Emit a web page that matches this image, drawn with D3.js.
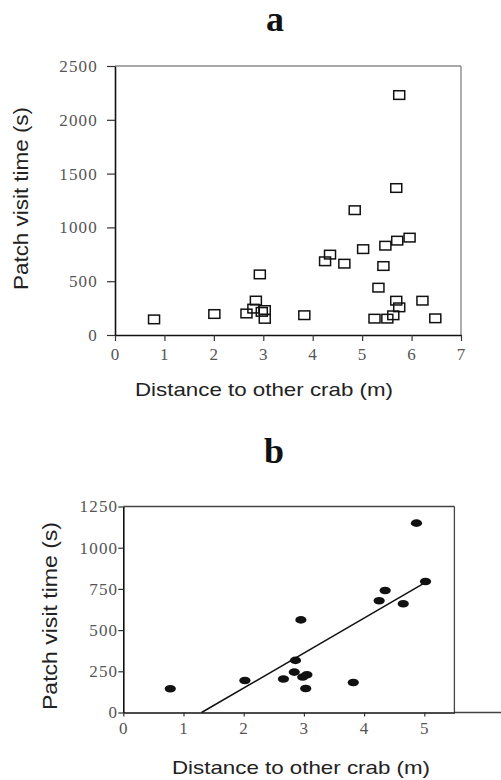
<!DOCTYPE html>
<html>
<head>
<meta charset="utf-8">
<script src="https://cdn.jsdelivr.net/npm/d3@7"></script>
<style>
  body { margin: 0; background: #fff; }
  .tick text { font-family: "Liberation Serif", serif; font-size: 17px; fill: #555; letter-spacing: 1.2px; }
  .lab { font-family: "Liberation Sans", Arial, sans-serif; fill: #222; }
  .ttl { font-family: "Liberation Serif", serif; font-weight: bold; font-size: 36px; fill: #111; }
</style>
</head>
<body>
<script>

// panel a: distance (m) vs patch visit time (s), all crabs
var distA = [0.79, 2.01, 2.66, 2.80, 2.85, 2.93, 2.97, 3.03, 3.03, 3.83, 4.25, 4.35, 4.64, 4.85, 5.02,
             5.75, 5.69, 5.96, 5.71, 5.47, 5.43, 5.33, 5.69, 6.22, 5.75, 5.63, 5.25, 5.51, 6.48];
var timeA = [145, 195, 200, 245, 320, 563, 215, 232, 150, 184, 685, 747, 663, 1160, 798,
             2230, 1366, 905, 877, 830, 641, 440, 319, 319, 257, 183, 152, 152, 155];

// panel b: subset up to 5 m
var distB = [0.78, 2.02, 2.66, 2.84, 2.86, 2.95, 2.98, 3.05, 3.03, 3.82, 4.25, 4.35, 4.65, 4.87, 5.02];
var timeB = [144, 194, 203, 245, 316, 562, 215, 229, 146, 182, 678, 740, 660, 1149, 795];

// fitted line in panel b
var fitX = [1.30, 5.02];
var fitY = [0, 790];

var ticksAx = [0, 1, 2, 3, 4, 5, 6, 7];
var ticksAy = [0, 500, 1000, 1500, 2000, 2500];
var ticksBx = [0, 1, 2, 3, 4, 5];
var ticksBy = [0, 250, 500, 750, 1000, 1250];

var width = 501, height = 780;
var fmt = d3.format("d");

var svg = d3.select("body").append("svg")
    .attr("width", width)
    .attr("height", height);

function styleAxis(g) {
    g.select(".domain").attr("stroke", "#111").attr("stroke-width", 1.6);
    g.selectAll(".tick line").attr("stroke", "#333").attr("stroke-width", 1.2);
    g.selectAll(".tick text").attr("font-family", null).attr("font-size", null);
}

// ---------- panel a ----------
var xa = d3.scaleLinear().domain([0, 7]).range([115, 461]);
var ya = d3.scaleLinear().domain([0, 2500]).range([335, 66]);

svg.append("text").attr("class", "ttl")
    .attr("x", 275).attr("y", 31)
    .attr("text-anchor", "middle").text("a");

// frame top/right
svg.append("line")
    .attr("x1", xa(0)).attr("x2", xa(7)).attr("y1", ya(2500)).attr("y2", ya(2500))
    .attr("stroke", "#555").attr("stroke-width", 1.2);
svg.append("line")
    .attr("x1", xa(7)).attr("x2", xa(7)).attr("y1", ya(2500)).attr("y2", ya(0))
    .attr("stroke", "#777").attr("stroke-width", 1.2);

svg.append("g")
    .attr("transform", "translate(0," + ya(0) + ")")
    .call(d3.axisBottom(xa).tickValues(ticksAx).tickFormat(fmt).tickSize(6).tickSizeOuter(0).tickPadding(6.7))
    .call(styleAxis);
svg.append("g")
    .attr("transform", "translate(" + xa(0) + ",0)")
    .call(d3.axisLeft(ya).tickValues(ticksAy).tickFormat(fmt).tickSize(8).tickSizeOuter(0).tickPadding(9))
    .call(styleAxis);

svg.append("g").selectAll("rect")
    .data(distA.map(function (d, i) { return [d, timeA[i]]; }))
    .enter().append("rect")
    .attr("x", function (d) { return xa(d[0]) - 5.5; })
    .attr("y", function (d) { return ya(d[1]) - 4.3; })
    .attr("width", 11)
    .attr("height", 8.6)
    .attr("fill", "none")
    .attr("stroke", "#111")
    .attr("stroke-width", 1.5);

svg.append("text").attr("class", "lab")
    .attr("x", 264).attr("y", 396)
    .attr("text-anchor", "middle")
    .attr("font-size", 18.5)
    .attr("textLength", 258).attr("lengthAdjust", "spacingAndGlyphs")
    .text("Distance to other crab (m)");

svg.append("text").attr("class", "lab")
    .attr("transform", "translate(28,198.5) rotate(-90)")
    .attr("text-anchor", "middle")
    .attr("font-size", 20)
    .attr("textLength", 183).attr("lengthAdjust", "spacingAndGlyphs")
    .text("Patch visit time (s)");

// ---------- panel b ----------
var xb = d3.scaleLinear().domain([0, 5.5]).range([123.3, 454.4]);
var yb = d3.scaleLinear().domain([0, 1250]).range([712.5, 506.5]);

svg.append("text").attr("class", "ttl")
    .attr("x", 274).attr("y", 463)
    .attr("text-anchor", "middle").text("b");

svg.append("line")
    .attr("x1", xb(0)).attr("x2", xb(5.5)).attr("y1", yb(1250)).attr("y2", yb(1250))
    .attr("stroke", "#444").attr("stroke-width", 1.3);
svg.append("line")
    .attr("x1", xb(5.5)).attr("x2", xb(5.5)).attr("y1", yb(1250)).attr("y2", yb(0))
    .attr("stroke", "#444").attr("stroke-width", 1.3);
// baseline runs on past the frame
svg.append("line")
    .attr("x1", xb(5.5)).attr("x2", width).attr("y1", yb(0)).attr("y2", yb(0))
    .attr("stroke", "#444").attr("stroke-width", 1.3);

svg.append("g")
    .attr("transform", "translate(0," + yb(0) + ")")
    .call(d3.axisBottom(xb).tickValues(ticksBx).tickFormat(fmt).tickSize(4).tickSizeOuter(0).tickPadding(5.2))
    .call(styleAxis);
svg.append("g")
    .attr("transform", "translate(" + xb(0) + ",0)")
    .call(d3.axisLeft(yb).tickValues(ticksBy).tickFormat(fmt).tickSize(5).tickSizeOuter(0).tickPadding(0))
    .call(styleAxis);

svg.append("line")
    .attr("x1", xb(fitX[0])).attr("y1", yb(fitY[0]))
    .attr("x2", xb(fitX[1])).attr("y2", yb(fitY[1]))
    .attr("stroke", "#111").attr("stroke-width", 1.5);

svg.append("g").selectAll("ellipse")
    .data(distB.map(function (d, i) { return [d, timeB[i]]; }))
    .enter().append("ellipse")
    .attr("cx", function (d) { return xb(d[0]); })
    .attr("cy", function (d) { return yb(d[1]); })
    .attr("rx", 5.6)
    .attr("ry", 3.8)
    .attr("fill", "#111");

svg.append("text").attr("class", "lab")
    .attr("x", 301).attr("y", 774)
    .attr("text-anchor", "middle")
    .attr("font-size", 18.5)
    .attr("textLength", 258).attr("lengthAdjust", "spacingAndGlyphs")
    .text("Distance to other crab (m)");

svg.append("text").attr("class", "lab")
    .attr("transform", "translate(57,616) rotate(-90)")
    .attr("text-anchor", "middle")
    .attr("font-size", 20)
    .attr("textLength", 188).attr("lengthAdjust", "spacingAndGlyphs")
    .text("Patch visit time (s)");

</script>
</body>
</html>
